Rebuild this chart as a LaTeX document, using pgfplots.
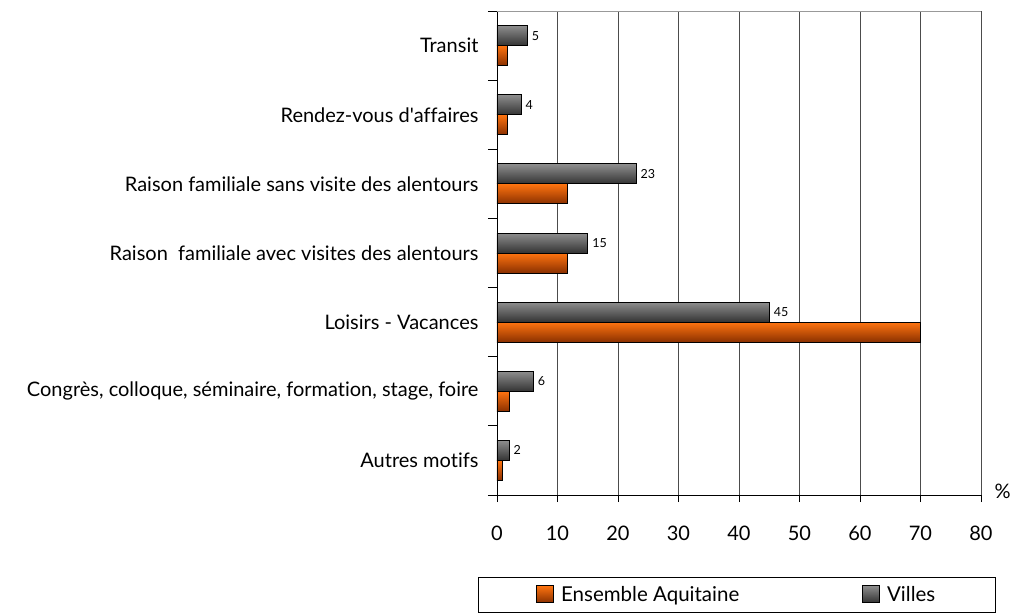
\documentclass[border=0pt]{standalone}
\usepackage{fontspec}
\setmainfont{Lato}[Ligatures={TeX,NoCommon}]
\usepackage{pgfplots}
\pgfplotsset{compat=1.18}
\definecolor{oTop}{HTML}{FF7410}
\definecolor{oMid}{HTML}{F06000}
\definecolor{oBot}{HTML}{8A3000}
\definecolor{gTop}{HTML}{8E8E8E}
\definecolor{gMid}{HTML}{707070}
\definecolor{gBot}{HTML}{333333}
\pgfplotsset{
  obar/.style={bar shift=-10pt, draw=black, line width=0.9pt,
    top color=oTop, middle color=oMid, bottom color=oBot},
  gbar/.style={bar shift=10pt, draw=black, line width=0.9pt,
    top color=gTop, middle color=gMid, bottom color=gBot},
}

\begin{document}
\begin{tikzpicture}
\begin{axis}[
    name=a, at={(0,0)}, anchor=south west,
    scale only axis, width=484pt, height=484pt,
    xmin=0, xmax=80, ymin=-0.5, ymax=6.5,
    axis lines*=left,
    axis line style={black, line width=0.8pt},
    xtick={0,10,...,80},
    ytick={0,...,6},
    yticklabels={Autres motifs,
        {Congrès, colloque, séminaire, formation, stage, foire},
        Loisirs - Vacances,
        Raison\ \ familiale avec visites des alentours,
        Raison familiale sans visite des alentours,
        Rendez-vous d\textquotesingle affaires,
        Transit},
    minor ytick={-0.5,0.5,...,6.5},
    major y tick style={draw=none},
    tick align=outside,
    major tick length=7pt, minor tick length=9pt,
    tick style={black, line width=0.8pt},
    xmajorgrids,
    grid style={black!70, line width=0.8pt},
    tick label style={font=\fontsize{20}{24}\selectfont},
    /pgf/number format/assume math mode=true,
    xticklabel style={yshift=-20pt},
    yticklabel style={xshift=-8pt},
    xbar, bar width=20pt,
    legend style={at={(-0.0393,-0.1694)}, anchor=north west,
        draw=black, line width=0.8pt, font=\fontsize{20.5}{24}\selectfont,
        inner xsep=58pt, inner ysep=7pt,
        /tikz/every odd column/.append style={column sep=5pt},
        /tikz/every even column/.append style={column sep=121pt}},
    legend columns=2,
    legend image code/.code={\draw[#1, line width=0.8pt] (0pt,-8pt) rectangle (17pt,9pt);},
]
% Ensemble Aquitaine
\addplot[obar] coordinates {(0.9,0)};
\addlegendentry{Ensemble Aquitaine}
\addplot[obar, forget plot] coordinates {(2.1,1)};
\addplot[obar, forget plot] coordinates {(70,2)};
\addplot[obar, forget plot] coordinates {(11.6,3)};
\addplot[obar, forget plot] coordinates {(11.7,4)};
\addplot[obar, forget plot] coordinates {(1.8,5)};
\addplot[obar, forget plot] coordinates {(1.8,6)};
% Villes
\addplot[gbar] coordinates {(2,0)};
\addlegendentry{Villes}
\addplot[gbar, forget plot] coordinates {(6,1)};
\addplot[gbar, forget plot] coordinates {(45,2)};
\addplot[gbar, forget plot] coordinates {(15,3)};
\addplot[gbar, forget plot] coordinates {(23,4)};
\addplot[gbar, forget plot] coordinates {(4,5)};
\addplot[gbar, forget plot] coordinates {(5,6)};
% value labels for Villes
\addplot[bar shift=10pt, draw=none, fill=none, forget plot,
    nodes near coords, nodes near coords align={horizontal},
    every node near coord/.append style={black, font=\fontsize{12.5}{14}\selectfont, xshift=1pt}]
    coordinates {(2,0) (6,1) (45,2) (15,3) (23,4) (4,5) (5,6)};
\draw[black!40, line width=0.9pt] (axis cs:0,6.5) -- (axis cs:80,6.5) -- (axis cs:80,-0.5);
\end{axis}
\node[anchor=west, font=\fontsize{20}{24}\selectfont] at ([xshift=10pt,yshift=4pt]a.south east) {\%};
\pgfresetboundingbox
\useasboundingbox (a.south west) ++(-497pt,-119pt) rectangle ++(1011pt,614pt);
\end{tikzpicture}
\end{document}
